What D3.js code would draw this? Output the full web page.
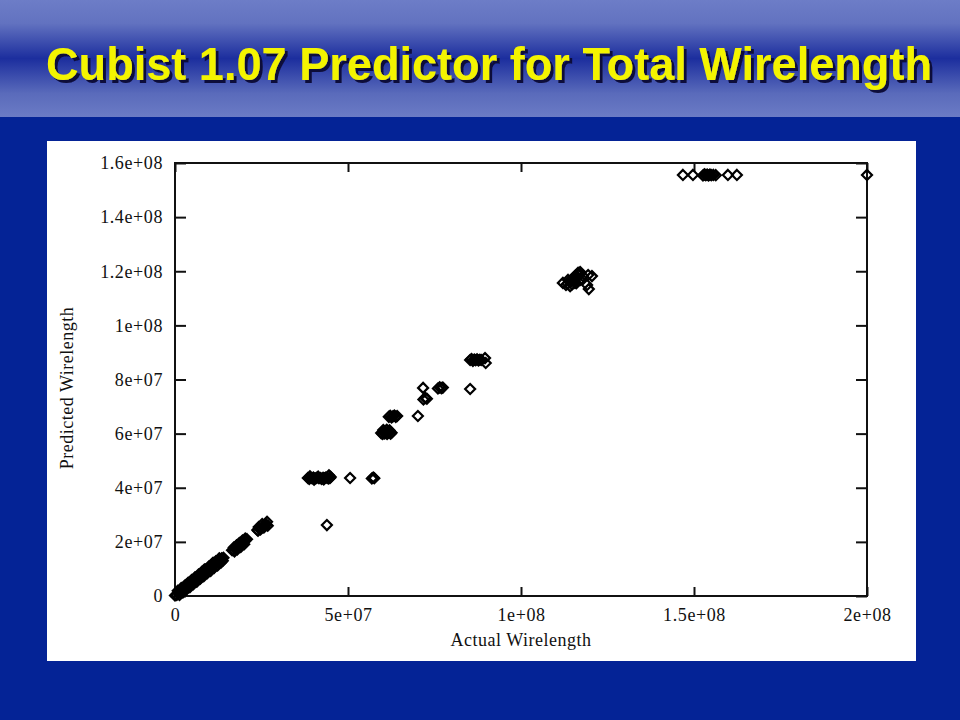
<!DOCTYPE html>
<html><head><meta charset="utf-8">
<script src="https://cdn.jsdelivr.net/npm/d3@7/dist/d3.min.js"></script>
<style>body{margin:0;background:#042396;}svg{display:block;}</style>
</head><body>
<svg id="c" width="960" height="720"></svg>
<script>
// Data in millions (M) of wirelength units
const actualWL = [
 0.0,0.5,1.0,1.5,2.0,2.5,3.0,3.5,4.0,4.5,5.0,5.5,6.0,6.5,7.0,7.5,8.0,8.5,9.0,9.5,10.0,10.5,11.0,11.5,12.0,12.5,13.0,13.5,14.0,11.0,8.5,5.8,3.2,
 0.8,1.8,2.8,3.8,4.8,5.8,6.8,7.8,8.8,9.8,10.8,11.8,12.8,
 1.3,2.3,3.3,4.3,5.3,6.3,7.3,8.3,9.3,10.3,11.3,12.3,13.3,13.8,
 16.5,16.8,17.3,17.8,18.3,18.8,19.3,19.8,20.3,20.8,17.0,17.8,18.6,19.5,20.3,17.2,18.0,19.0,20.0,
 23.8,24.0,24.5,25.0,25.5,26.0,26.3,25.2,24.2,24.7,25.7,26.6,26.8,
 38.4,38.8,39.2,39.6,40.0,40.4,40.8,41.2,41.6,42.0,42.4,42.8,43.2,43.6,44.0,44.4,44.8,39.0,40.2,41.4,43.0,44.5,45.0,
 50.6,56.9,57.3,57.6,43.9,
 59.6,60.0,60.3,60.6,61.0,61.3,61.6,62.0,62.3,62.6,60.2,61.2,62.0,
 61.8,62.2,62.6,63.0,63.4,63.8,64.2,
 70.2,71.7,76.0,76.5,77.0,77.4,71.8,72.8,72.3,85.3,
 85.3,85.7,86.1,86.5,86.9,87.3,87.7,88.1,88.5,89.6,89.8,
 113.0,114.2,115.0,115.9,116.5,117.1,114.2,115.6,117.1,117.9,113.6,114.8,116.2,115.3,116.8,
 113.5,114.0,114.6,115.2,115.8,116.4,117.0,114.5,115.5,116.0,
 119.4,120.5,119.1,119.6,112.1,
 146.8,149.7,152.6,153.0,153.4,153.8,154.2,154.6,155.0,155.6,156.3,159.8,162.4,200.0
];
const predictedWL = [
 0.2,0.4,1.1,1.3,2.2,2.4,3.1,3.7,3.8,4.6,5.2,5.4,6.3,6.4,7.1,7.8,7.9,8.7,9.3,9.4,10.2,10.9,11.0,11.8,12.4,12.6,13.3,13.9,14.1,12.3,9.8,6.8,4.0,
 1.9,2.9,3.8,4.9,5.9,6.8,7.9,8.9,9.8,10.9,11.9,12.8,13.9,
 0.4,1.3,2.4,3.3,4.4,5.3,6.4,7.3,8.4,9.3,10.4,11.3,12.4,13.0,
 16.9,17.1,17.6,18.1,18.4,19.1,19.5,20.0,20.4,21.0,17.9,18.7,19.6,20.5,21.2,16.5,17.2,18.1,19.1,
 24.4,24.1,24.8,25.2,25.5,26.1,26.4,26.6,25.5,24.6,25.3,27.4,26.0,
 43.6,43.3,43.7,43.5,43.8,43.4,43.6,43.9,43.5,43.6,43.3,43.7,43.5,43.8,43.6,43.4,43.6,44.2,43.0,44.1,43.1,44.6,44.0,
 43.6,43.4,43.8,43.5,26.2,
 60.2,59.9,60.6,60.1,60.5,59.9,60.3,60.7,60.0,60.3,61.3,61.4,61.2,
 66.2,66.6,66.0,66.4,66.7,66.2,66.5,
 66.5,76.9,76.7,77.1,76.8,77.0,72.6,72.9,73.2,76.5,
 87.2,87.6,86.9,87.4,87.1,87.5,87.0,87.3,87.2,87.9,86.1,
 114.9,116.0,117.1,118.2,119.4,119.7,114.5,115.7,116.8,118.2,116.8,115.2,117.6,116.4,118.9,
 115.4,116.2,117.0,117.6,118.4,118.9,119.0,116.6,117.4,115.6,
 118.6,118.2,114.9,113.4,115.7,
 155.6,155.6,155.4,155.8,155.5,155.7,155.4,155.7,155.5,155.6,155.5,155.6,155.6,155.6
];
const xTickValues = [0, 50, 100, 150, 200];
const xTickLabels = ["0", "5e+07", "1e+08", "1.5e+08", "2e+08"];
const yTickValues = [0, 20, 40, 60, 80, 100, 120, 140, 160];
const yTickLabels = ["0", "2e+07", "4e+07", "6e+07", "8e+07", "1e+08", "1.2e+08", "1.4e+08", "1.6e+08"];
const titleText = "Cubist 1.07 Predictor for Total Wirelength";
const xTitle = "Actual Wirelength";
const yTitle = "Predicted Wirelength";

const svg = d3.select("#c");
const defs = svg.append("defs");
const g1 = defs.append("linearGradient").attr("id","hdr").attr("x1",0).attr("y1",0).attr("x2",0).attr("y2",1);
[[0,"#6d7dc7"],[0.2,"#6272c0"],[0.5,"#1c2e9e"],[0.8,"#5a6bbb"],[1,"#6b7bc5"]].forEach(s=>g1.append("stop").attr("offset",s[0]).attr("stop-color",s[1]));
const sh = defs.append("filter").attr("id","shadow").attr("x","-5%").attr("y","-20%").attr("width","110%").attr("height","150%");
sh.append("feDropShadow").attr("dx",3).attr("dy",3).attr("stdDeviation",0.6).attr("flood-color","#0c0c3a").attr("flood-opacity",1);

svg.append("rect").attr("width",960).attr("height",720).attr("fill","#042396");
svg.append("rect").attr("width",960).attr("height",117).attr("fill","url(#hdr)");

// title with drop shadow
svg.append("text").attr("x",46).attr("y",80).attr("font-family","'Liberation Sans', Arial, sans-serif")
  .attr("font-weight","bold").attr("font-size",46).attr("textLength",886).attr("lengthAdjust","spacingAndGlyphs")
  .attr("fill","#f4f400").attr("filter","url(#shadow)").text(titleText);

// white panel
svg.append("rect").attr("x",47).attr("y",141).attr("width",869).attr("height",520).attr("fill","#ffffff");

const L=175, R=867, T=163, B=596;
const x = d3.scaleLinear().domain([0,200]).range([L,R]);
const y = d3.scaleLinear().domain([0,160]).range([B,T]);
const font = "'Liberation Serif', 'DejaVu Serif', serif";

// frame
svg.append("rect").attr("x",L).attr("y",T).attr("width",R-L).attr("height",B-T)
  .attr("fill","none").attr("stroke","#111").attr("stroke-width",2);

// axes
const xAxis = d3.axisBottom(x).tickValues(xTickValues).tickSize(-9).tickPadding(12)
  .tickFormat((d,i)=>xTickLabels[i]);
const yAxis = d3.axisLeft(y).tickValues(yTickValues).tickSize(-11).tickPadding(12)
  .tickFormat((d,i)=>yTickLabels[i]);
const gx = svg.append("g").attr("transform",`translate(0,${B})`).call(xAxis);
const gy = svg.append("g").attr("transform",`translate(${L},0)`).call(yAxis);
const gx2 = svg.append("g").attr("transform",`translate(0,${T})`).call(d3.axisTop(x).tickValues(xTickValues).tickSize(-9).tickFormat(""));
const gy2 = svg.append("g").attr("transform",`translate(${R},0)`).call(d3.axisRight(y).tickValues(yTickValues).tickSize(-11).tickFormat(""));
[gx,gy,gx2,gy2].forEach(g=>{
  g.select(".domain").remove();
  g.selectAll(".tick line").attr("stroke","#111").attr("stroke-width",2);
  g.selectAll(".tick text").attr("font-family",font).attr("font-size",18).attr("fill","#111").attr("letter-spacing","0.6px");
});

// axis titles
svg.append("text").attr("x",521).attr("y",646).attr("text-anchor","middle").attr("font-family",font)
  .attr("font-size",18).attr("fill","#111").attr("letter-spacing","0.5px").text(xTitle);
svg.append("text").attr("transform","translate(73,388) rotate(-90)").attr("text-anchor","middle").attr("font-family",font)
  .attr("font-size",18).attr("fill","#111").attr("letter-spacing","0.5px").text(yTitle);

// points (open diamonds)
const pts = actualWL.map((a,i)=>({a, p: predictedWL[i]}));
const diamond = "M0,-5L5,0L0,5L-5,0Z";
svg.append("g").selectAll("path").data(pts).join("path")
  .attr("transform",d=>`translate(${x(d.a)},${y(d.p)})`)
  .attr("d",diamond).attr("fill","none").attr("stroke","#000").attr("stroke-width",2.2);
</script>
</body></html>
